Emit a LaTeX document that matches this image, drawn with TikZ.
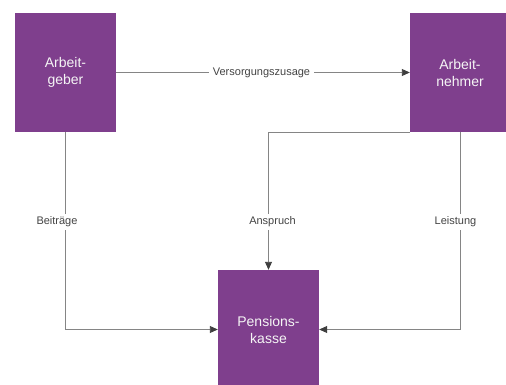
\documentclass[tikz,border=0pt]{standalone}
\usepackage{fontspec}
\setmainfont{Liberation Sans}
\usetikzlibrary{arrows.meta}
\definecolor{boxpurple}{HTML}{7F3F8D}
\definecolor{linegray}{HTML}{858585}
\definecolor{tipgray}{HTML}{3F3F3F}
\definecolor{lblgray}{HTML}{444444}
\tikzset{
  entity/.style={fill=boxpurple, draw=none, text=white!96!black, minimum width=101pt, minimum height=119pt, align=center, inner sep=0pt, font=\fontsize{14}{17}\selectfont},
  conn/.style={draw=linegray, line width=0.9pt, -{Triangle[length=8pt,width=7pt,color=tipgray]}},
  lbl/.style={fill=white, text=lblgray, inner xsep=4pt, inner ysep=3pt, font=\fontsize{11}{13}\selectfont}
}
\begin{document}
\begin{tikzpicture}[x=1pt,y=-1pt]
\useasboundingbox (0,0) rectangle (506,385);
\node[entity] (ag) at (65.5,72.5) {Arbeit-\\geber};
\node[entity, minimum width=100pt] (an) at (460,72.5) {Arbeit-\\nehmer};
\node[entity] (pk) at (268.5,329.5) {Pensions-\\kasse};
\draw[conn] (ag.east) -- (an.west);
\draw[conn] (ag.south) -- (ag.south |- pk.west) -- (pk.west);
\draw[conn] (an.south west) -- (pk.north |- an.south) -- (pk.north);
\draw[conn] (an.south) -- (an.south |- pk.east) -- (pk.east);
\node[lbl] (l1) at (261.5,73) {Versorgungszusage};
\node[lbl] (l2) at (57,222) {Beiträge};
\node[lbl] (l3) at (272.5,222) {Anspruch};
\node[lbl] (l4) at (455.5,222) {Leistung};
\end{tikzpicture}
\end{document}
